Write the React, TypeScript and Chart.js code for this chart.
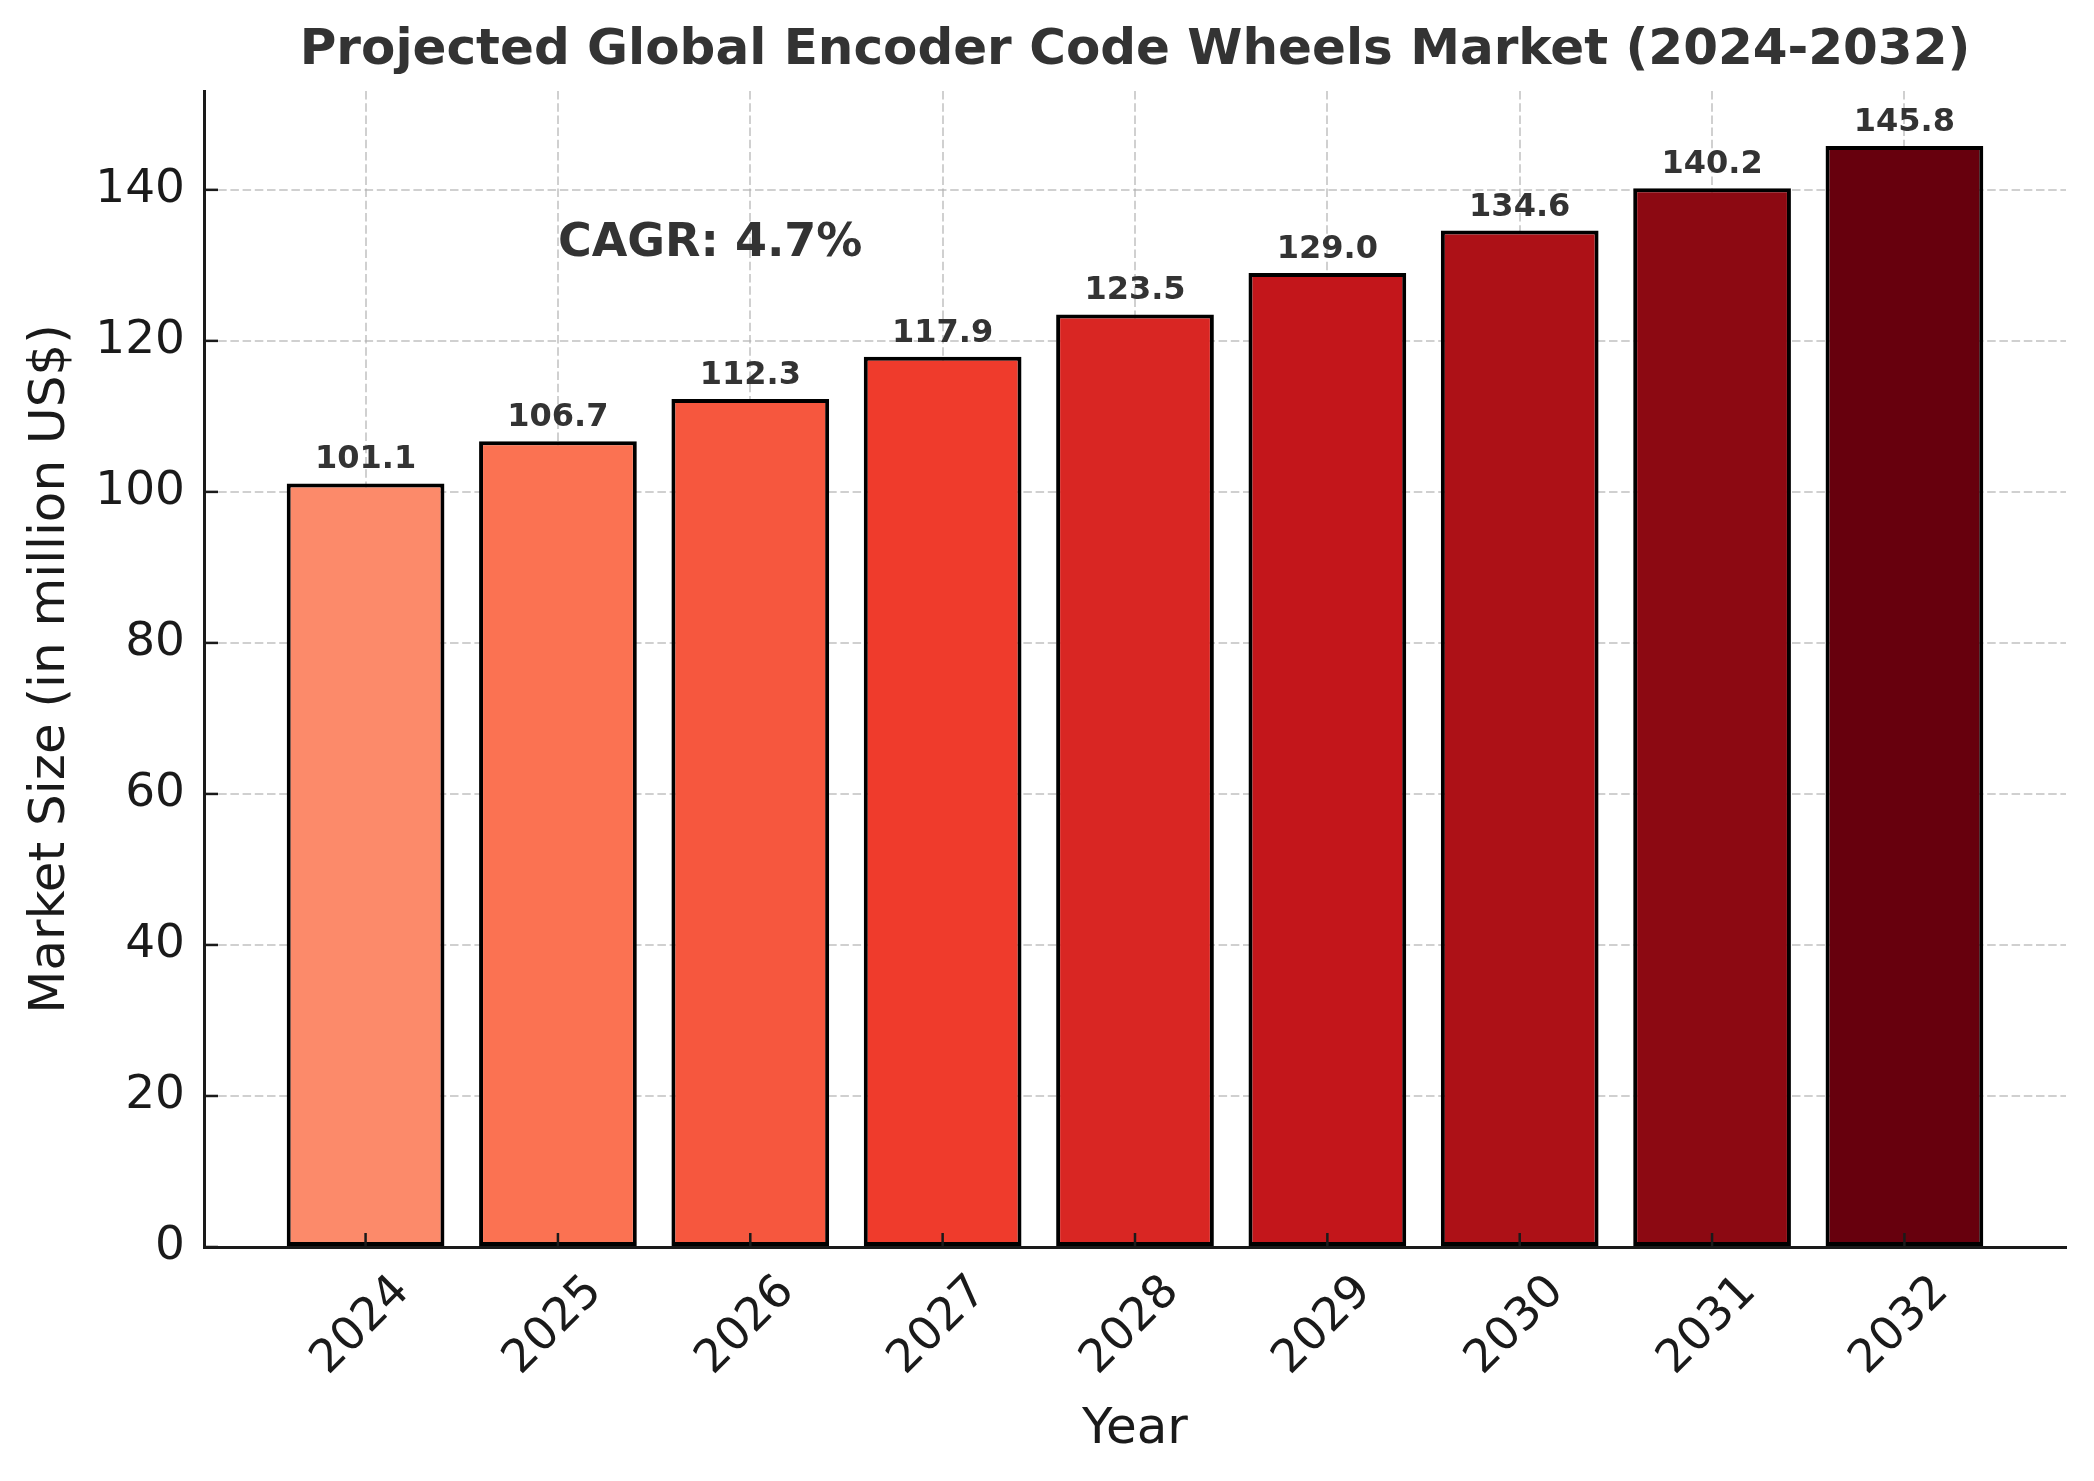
import React, { useEffect, useRef } from 'react';
import { Chart, registerables } from 'chart.js';

Chart.register(...registerables);

const years = ['2024', '2025', '2026', '2027', '2028', '2029', '2030', '2031', '2032'];
const marketSize = [101.1, 106.7, 112.3, 117.9, 123.5, 129.0, 134.6, 140.2, 145.8];
const barColors = ['#fc8a6a', '#fb7252', '#f6573e', '#ef3b2c', '#d92623', '#c3161b', '#ad1117', '#8c0912', '#67000d'];
const yTickValues = [0, 20, 40, 60, 80, 100, 120, 140];
const titleText = 'Projected Global Encoder Code Wheels Market (2024-2032)';
const xTitle = 'Year';
const yTitle = 'Market Size (in million US$)';
const cagrText = 'CAGR: 4.7%';
const cagrAnchorIndex = 1;
const cagrAnchorValue = 131.2;

const FONT = '"DejaVu Sans", sans-serif';

const overlayPlugin = {
  id: 'overlay',
  afterDraw(chart: any) {
    const ctx = chart.ctx as CanvasRenderingContext2D;
    const xs = chart.scales.x;
    const ys = chart.scales.y;
    const area = chart.chartArea;
    ctx.save();
    // inward tick marks
    ctx.strokeStyle = '#1a1a1a';
    ctx.lineWidth = 2.5;
    ys.ticks.forEach((t: any) => {
      const py = ys.getPixelForValue(t.value);
      ctx.beginPath();
      ctx.moveTo(area.left, py);
      ctx.lineTo(area.left + 14, py);
      ctx.stroke();
    });
    xs.ticks.forEach((t: any) => {
      const px = xs.getPixelForValue(t.value);
      ctx.beginPath();
      ctx.moveTo(px, area.bottom);
      ctx.lineTo(px, area.bottom - 14);
      ctx.stroke();
    });
    // value labels
    const meta = chart.getDatasetMeta(0);
    const fs = 32;
    ctx.font = `bold ${fs}px ${FONT}`;
    ctx.fillStyle = '#333333';
    ctx.textAlign = 'center';
    ctx.textBaseline = 'alphabetic';
    meta.data.forEach((bar: any, i: number) => {
      const v = marketSize[i];
      const py = ys.getPixelForValue(v + 1) - 0.236 * fs;
      ctx.fillText(v.toFixed(1), bar.x, py);
    });
    // CAGR annotation
    ctx.font = `bold 46px ${FONT}`;
    ctx.textAlign = 'left';
    ctx.fillText(cagrText, xs.getPixelForValue(cagrAnchorIndex), ys.getPixelForValue(cagrAnchorValue));
    ctx.restore();
  },
};

export default function App() {
  const canvasRef = useRef<HTMLCanvasElement | null>(null);

  useEffect(() => {
    document.body.style.margin = '0';
    const canvas = canvasRef.current;
    if (!canvas) return;
    const gridColor = 'rgba(176,176,176,0.6)';
    const chart = new Chart(canvas, {
      type: 'bar',
      data: {
        datasets: [
          {
            label: 'Market Size',
            data: marketSize.map((v, i) => ({ x: i, y: v })),
            backgroundColor: barColors,
            borderColor: '#000000',
            borderWidth: 4,
            borderSkipped: false,
            barPercentage: 0.82,
            categoryPercentage: 1.0,
          },
        ],
      },
      options: {
        animation: false,
        responsive: false,
        devicePixelRatio: 1,
        layout: { padding: { top: 0, left: 0, right: 28, bottom: 0 } },
        plugins: {
          legend: { display: false },
          tooltip: { enabled: false },
          title: {
            display: true,
            text: titleText,
            fullSize: false,
            color: '#333333',
            font: { family: FONT, size: 50, weight: 'bold', lineHeight: 1.2 },
            padding: { top: 21, bottom: 10 },
          },
        },
        scales: {
          x: {
            type: 'linear',
            min: -0.84,
            max: 8.84,
            offset: false,
            z: 1,
            afterBuildTicks: (scale: any) => {
              scale.ticks = years.map((_, i) => ({ value: i }));
            },
            afterFit: (scale: any) => {
              scale.height = 234;
              scale.paddingLeft = 0;
              scale.paddingRight = 0;
            },
            ticks: {
              autoSkip: false,
              minRotation: 45,
              maxRotation: 45,
              padding: 18,
              labelOffset: 37,
              color: '#1a1a1a',
              font: { family: FONT, size: 46 },
              callback: (v: any) => years[v as number] ?? '',
            },
            grid: {
              display: true,
              offset: false,
              drawTicks: false,
              color: gridColor,
              lineWidth: 2,
            },
            border: { display: true, color: '#1a1a1a', width: 3, dash: [8.5, 3.7] },
            title: {
              display: true,
              text: xTitle,
              color: '#1a1a1a',
              font: { family: FONT, size: 50, lineHeight: 1.2 },
              padding: { top: 0, bottom: 20.5 },
            },
          },
          y: {
            type: 'linear',
            min: 0,
            max: 153.09,
            z: 1,
            afterBuildTicks: (scale: any) => {
              scale.ticks = yTickValues.map((v) => ({ value: v }));
            },
            afterFit: (scale: any) => {
              scale.width = 204;
              scale.paddingTop = 0;
              scale.paddingBottom = 0;
            },
            ticks: {
              padding: 19,
              color: '#1a1a1a',
              font: { family: FONT, size: 47 },
              callback: (v: any) => String(v),
            },
            grid: {
              display: true,
              offset: false,
              drawTicks: false,
              color: gridColor,
              lineWidth: 2,
            },
            border: { display: true, color: '#1a1a1a', width: 3, dash: [8.5, 3.7] },
            title: {
              display: true,
              text: yTitle,
              color: '#1a1a1a',
              font: { family: FONT, size: 50, lineHeight: 1.2 },
              padding: { top: 20.7, bottom: 0 },
            },
          },
        },
      },
      plugins: [overlayPlugin],
    } as any);
    return () => {
      chart.destroy();
    };
  }, []);

  return (
    <div style={{ position: 'absolute', left: 0, top: 0, width: 2094, height: 1481, background: '#ffffff' }}>
      <canvas ref={canvasRef} width={2094} height={1481} style={{ width: 2094, height: 1481, display: 'block' }} />
    </div>
  );
}
